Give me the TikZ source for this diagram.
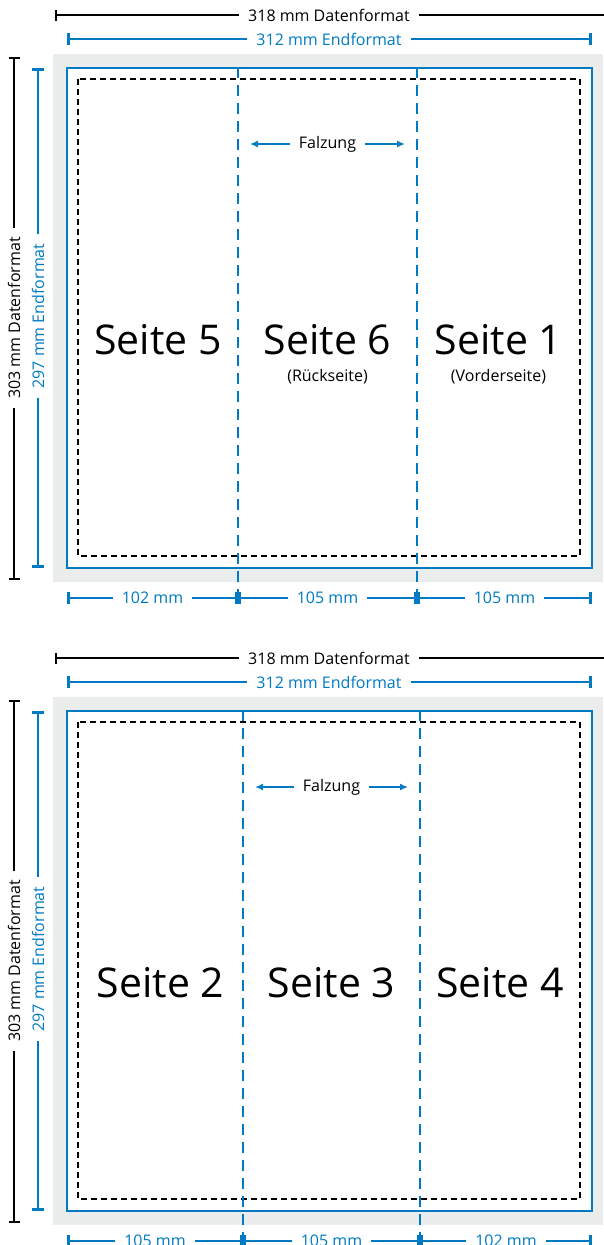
\documentclass[tikz,border=0pt]{standalone}
\usepackage{fontspec}
\setmainfont{Open Sans}
\usetikzlibrary{arrows.meta,positioning}
\definecolor{endblau}{RGB}{0,122,195}
\definecolor{beschnitt}{RGB}{235,236,236}

\begin{document}
\begin{tikzpicture}[x=1pt, y=-1pt,
	mass/.style={line width=2.2pt},
	massblau/.style={draw=endblau, line width=2.8pt},
	masstext/.style={font=\fontsize{16}{19}\selectfont, inner xsep=9pt, inner ysep=0pt},
	falz/.style={draw=endblau, line width=2.6pt, dash pattern=on 11pt off 7pt},
	seite/.style={font=\fontsize{41}{48}\selectfont},
	unter/.style={font=\fontsize{16}{19}\selectfont, inner sep=0pt}]
	\useasboundingbox (0,0) rectangle (603,1245);
	\foreach \dy/\fa/\fb/\ma/\mb/\mc/\sa/\sb/\sc in {0/238/417/102/105/105/5/6/1, 643/243/420/105/105/102/2/3/4} {
	\begin{scope}[yshift=-\dy pt]
		\fill[beschnitt] (53,54) rectangle (603,582);
		\draw[massblau, fill=white] (67,68) rectangle (592,568);
		\draw[line width=1.4pt, dash pattern=on 6pt off 4pt] (78,79) rectangle (580,556);
		\coordinate (F1o) at (\fa,67); \coordinate (F1u) at (\fa,605); \coordinate (F2o) at (\fb,67); \coordinate (F2u) at (\fb,605);
		\draw[falz] (F1o) -- (F1u); \draw[falz] (F2o) -- (F2u);
		% Datenformat und Endformat
		\coordinate (DL) at (55,15); \coordinate (DR) at (606,15); \coordinate (EL) at (67,39); \coordinate (ER) at (592,39);
		\node[masstext] (D) at (329,15) {318 mm Datenformat};
		\node[masstext, text=endblau] (E) at (329,39) {312 mm Endformat};
		\draw[mass, {Bar[width=11pt]}-] (DL) -- (D.west); \draw[mass] (D.east) -- (DR);
		\draw[massblau, {Bar[width=12pt]}-] (EL) -- (E.west); \draw[massblau, -{Bar[width=12pt]}] (E.east) -- (ER);
		\coordinate (HO) at (14,57); \coordinate (HU) at (14,580); \coordinate (VO) at (38,68); \coordinate (VU) at (38,568);
		\node[masstext, rotate=90] (H) at (14,318) {303 mm Datenformat};
		\node[masstext, rotate=90, text=endblau] (V) at (38,316) {297 mm Endformat};
		\draw[mass, {Bar[width=11pt]}-] (HO) -- (H.east); \draw[mass, -{Bar[width=11pt]}] (H.west) -- (HU);
		\draw[massblau, {Bar[width=12pt]}-] (VO) -- (V.east); \draw[massblau, -{Bar[width=12pt]}] (V.west) -- (VU);
		% Seitenbreiten
		\coordinate (M0) at (67,598); \coordinate (M1) at (\fa,598); \coordinate (M2) at (\fb,598); \coordinate (M3) at (592,598);
		\node[masstext, text=endblau] (m1) at ({(67+\fa)/2},598) {\ma~mm};
		\node[masstext, text=endblau] (m2) at ({(\fa+\fb)/2},598) {\mb~mm};
		\node[masstext, text=endblau] (m3) at ({(\fb+592)/2},598) {\mc~mm};
		\draw[massblau, {Bar[width=12pt]}-] (M0) -- (m1.west); \draw[massblau, -{Bar[width=12pt]}] (m1.east) -- (M1);
		\draw[massblau, {Bar[width=12pt]}-] (M1) -- (m2.west); \draw[massblau, -{Bar[width=12pt]}] (m2.east) -- (M2);
		\draw[massblau, {Bar[width=12pt]}-] (M2) -- (m3.west); \draw[massblau, -{Bar[width=12pt]}] (m3.east) -- (M3);
		% Falzung
		\coordinate (PL) at (\fa+12,144); \coordinate (PR) at (\fb-12,144);
		\node[masstext] (Fz) at ({(\fa+\fb)/2},144) {Falzung};
		\draw[massblau, line width=2.2pt, -{Latex[length=8pt,width=7pt]}] (Fz.west) -- (PL);
		\draw[massblau, line width=2.2pt, -{Latex[length=8pt,width=7pt]}] (Fz.east) -- (PR);
		% Seiten
		\node[seite] (s1-\dy) at ({(78+\fa)/2},340) {Seite \sa};
		\node[seite] (s2-\dy) at ({(\fa+\fb)/2},340) {Seite \sb};
		\node[seite] (s3-\dy) at ({(\fb+580)/2},340) {Seite \sc};
	\end{scope}
	}
	\node[unter, below=10pt of s2-0] {(Rückseite)};
	\node[unter, below=10pt of s3-0] {(Vorderseite)};
\end{tikzpicture}
\end{document}
